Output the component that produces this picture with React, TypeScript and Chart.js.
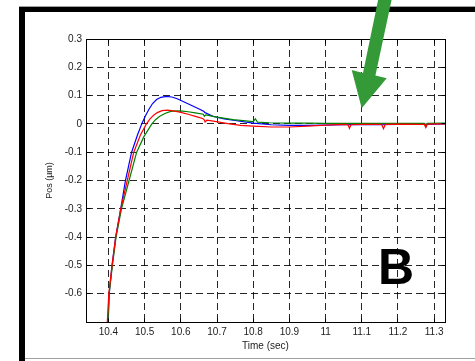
import React, { useEffect, useRef } from 'react';
import { Chart, registerables } from 'chart.js';

Chart.register(...registerables);

const xTickValues = [10.4, 10.5, 10.6, 10.7, 10.8, 10.9, 11.0, 11.1, 11.2, 11.3];
const xTickLabels = ['10.4', '10.5', '10.6', '10.7', '10.8', '10.9', '11', '11.1', '11.2', '11.3'];
const yTickValues = [-0.7, -0.6, -0.5, -0.4, -0.3, -0.2, -0.1, 0, 0.1, 0.2, 0.3];
const yTickLabels = ['', '-0.6', '-0.5', '-0.4', '-0.3', '-0.2', '-0.1', '0', '0.1', '0.2', '0.3'];
const X_MIN = 10.338;
const X_MAX = 11.33;
const Y_MIN = -0.7;
const Y_MAX = 0.3;

const blueTime = [10.399, 10.402, 10.410, 10.420, 10.434, 10.447, 10.464, 10.480, 10.492, 10.502, 10.512, 10.522, 10.533, 10.545, 10.560, 10.575, 10.590, 10.605, 10.630, 10.655, 10.664, 10.666, 10.670, 10.690, 10.720, 10.750, 10.800, 10.850, 10.900, 10.950, 11.000, 11.050, 11.100, 11.150, 11.200, 11.250, 11.300, 11.330];
const blueValues = [-0.72, -0.60, -0.50, -0.40, -0.30, -0.20, -0.10, -0.04, 0.0, 0.028, 0.052, 0.072, 0.086, 0.094, 0.097, 0.095, 0.089, 0.080, 0.065, 0.050, 0.044, 0.040, 0.038, 0.026, 0.018, 0.012, 0.003, -0.003, -0.005, -0.005, -0.004, -0.003, -0.002, -0.003, -0.002, -0.002, -0.001, 0.0];

const redTime = [10.396, 10.401, 10.410, 10.420, 10.434, 10.452, 10.470, 10.488, 10.505, 10.515, 10.524, 10.535, 10.548, 10.562, 10.580, 10.600, 10.620, 10.645, 10.660, 10.664, 10.667, 10.672, 10.690, 10.730, 10.765, 10.800, 10.850, 10.900, 10.950, 11.000, 11.050, 11.062, 11.066, 11.070, 11.100, 11.155, 11.160, 11.165, 11.200, 11.250, 11.273, 11.277, 11.281, 11.330];
const redValues = [-0.72, -0.60, -0.50, -0.40, -0.30, -0.20, -0.10, -0.04, 0.0, 0.018, 0.030, 0.040, 0.047, 0.049, 0.046, 0.041, 0.034, 0.025, 0.019, 0.016, 0.007, 0.013, 0.010, 0.001, -0.005, -0.008, -0.011, -0.011, -0.008, -0.004, -0.002, -0.003, -0.016, -0.003, -0.002, -0.002, -0.017, -0.002, -0.001, -0.002, -0.002, -0.012, -0.001, 0.0];

const greenTime = [10.398, 10.402, 10.411, 10.421, 10.436, 10.457, 10.478, 10.498, 10.520, 10.530, 10.542, 10.556, 10.572, 10.590, 10.605, 10.620, 10.640, 10.662, 10.665, 10.669, 10.700, 10.744, 10.800, 10.806, 10.812, 10.845, 10.900, 10.950, 11.000, 11.050, 11.100, 11.150, 11.200, 11.250, 11.273, 11.277, 11.281, 11.330];
const greenValues = [-0.72, -0.60, -0.50, -0.40, -0.30, -0.20, -0.10, -0.045, 0.0, 0.015, 0.027, 0.037, 0.044, 0.046, 0.045, 0.043, 0.039, 0.034, 0.027, 0.032, 0.024, 0.015, 0.008, 0.018, 0.006, 0.004, 0.003, 0.003, 0.002, 0.002, 0.002, 0.002, 0.002, 0.002, 0.002, -0.011, 0.002, 0.003];

const FONT = '"Liberation Sans", Arial, Helvetica, sans-serif';

const toPoints = (t: number[], v: number[]) => t.map((x, i) => ({ x, y: v[i] }));
const align = (p: number) => Math.round(p - 0.5) + 0.5;

const decorPlugin = {
  id: 'decor',
  beforeDraw(chart: any) {
    const ctx = chart.ctx;
    ctx.save();
    ctx.fillStyle = '#ffffff';
    ctx.fillRect(0, 0, chart.width, chart.height);
    ctx.fillStyle = '#000000';
    ctx.fillRect(19, 7, 456, 5);
    ctx.fillRect(19, 7, 6, 354);
    ctx.fillStyle = '#a0a0a0';
    ctx.fillRect(19, 6, 456, 1);
    ctx.fillRect(25, 358, 450, 1);
    ctx.restore();
  },
  afterDraw(chart: any) {
    const { ctx, chartArea: a, scales } = chart;
    const xs = scales.x;
    const ys = scales.y;
    ctx.save();
    ctx.setLineDash([]);
    ctx.strokeStyle = '#000000';
    ctx.lineWidth = 1;
    const L = align(a.left);
    const R = align(a.right);
    const T = align(a.top);
    const B = align(a.bottom);
    ctx.strokeRect(L, T, R - L, B - T);
    const tl = 4;
    ctx.beginPath();
    for (const v of xTickValues) {
      const px = align(xs.getPixelForValue(v));
      ctx.moveTo(px, T);
      ctx.lineTo(px, T + tl);
      ctx.moveTo(px, B);
      ctx.lineTo(px, B - tl);
    }
    for (const v of yTickValues) {
      const py = align(ys.getPixelForValue(v));
      ctx.moveTo(L, py);
      ctx.lineTo(L + tl, py);
      ctx.moveTo(R, py);
      ctx.lineTo(R - tl, py);
    }
    ctx.stroke();

    // Panel letter
    ctx.fillStyle = '#000000';
    ctx.font = 'bold 50px ' + FONT;
    ctx.textAlign = 'left';
    ctx.textBaseline = 'alphabetic';
    ctx.fillText('B', 378, 284);

    // Green arrow annotation
    ctx.fillStyle = '#349a37';
    ctx.beginPath();
    ctx.moveTo(378.5, -2);
    ctx.lineTo(363, 72.9);
    ctx.lineTo(351.7, 70);
    ctx.lineTo(361.7, 108.3);
    ctx.lineTo(386.7, 78.3);
    ctx.lineTo(375.4, 75.5);
    ctx.lineTo(392, -2);
    ctx.closePath();
    ctx.fill();
    ctx.restore();
  },
};

export default function App() {
  const ref = useRef<HTMLCanvasElement | null>(null);

  useEffect(() => {
    document.body.style.margin = '0';
    const canvas = ref.current;
    if (!canvas) return;
    const chart = new Chart(canvas, {
      type: 'line',
      data: {
        datasets: [
          { label: 'red', data: toPoints(redTime, redValues), borderColor: '#ff0000', borderWidth: 1.2, pointRadius: 0, tension: 0, fill: false },
          { label: 'green', data: toPoints(greenTime, greenValues), borderColor: '#008000', borderWidth: 1.2, pointRadius: 0, tension: 0, fill: false },
          { label: 'blue', data: toPoints(blueTime, blueValues), borderColor: '#0000ff', borderWidth: 1.2, pointRadius: 0, tension: 0, fill: false },
        ],
      },
      options: {
        animation: false,
        responsive: false,
        maintainAspectRatio: false,
        events: [],
        layout: { padding: { top: 39, right: 30, bottom: 0, left: 0 } },
        plugins: {
          legend: { display: false },
          tooltip: { enabled: false },
        },
        scales: {
          x: {
            type: 'linear',
            min: X_MIN,
            max: X_MAX,
            afterBuildTicks: (scale: any) => {
              scale.ticks = xTickValues.map((value) => ({ value }));
            },
            afterFit: (scale: any) => {
              scale.height = 39;
            },
            grid: { color: 'rgba(0,0,0,0.85)', lineWidth: 1, drawTicks: false },
            border: { display: false, dash: [7, 4] },
            ticks: {
              autoSkip: false,
              maxRotation: 0,
              padding: 4,
              color: '#222222',
              font: { family: FONT, size: 10 },
              callback: (_v: any, i: number) => xTickLabels[i],
            },
            title: {
              display: true,
              text: 'Time (sec)',
              color: '#222222',
              font: { family: FONT, size: 10 },
              padding: { top: 0, bottom: 9 },
            },
          },
          y: {
            type: 'linear',
            min: Y_MIN,
            max: Y_MAX,
            afterBuildTicks: (scale: any) => {
              scale.ticks = yTickValues.map((value) => ({ value }));
            },
            afterFit: (scale: any) => {
              scale.width = 86;
            },
            grid: { color: 'rgba(0,0,0,0.85)', lineWidth: 1, drawTicks: false },
            border: { display: false, dash: [7, 4] },
            ticks: {
              autoSkip: false,
              padding: 4,
              color: '#222222',
              font: { family: FONT, size: 10 },
              callback: (_v: any, i: number) => yTickLabels[i],
            },
            title: {
              display: true,
              text: 'Pos (µm)',
              color: '#222222',
              font: { family: FONT, size: 9 },
              padding: { top: 44, bottom: 0 },
            },
          },
        },
      },
      plugins: [decorPlugin],
    });
    return () => chart.destroy();
  }, []);

  return (
    <div style={{ position: 'fixed', left: 0, top: 0, width: 475, height: 361, background: '#fff' }}>
      <canvas ref={ref} width={475} height={361} style={{ display: 'block' }} />
    </div>
  );
}
